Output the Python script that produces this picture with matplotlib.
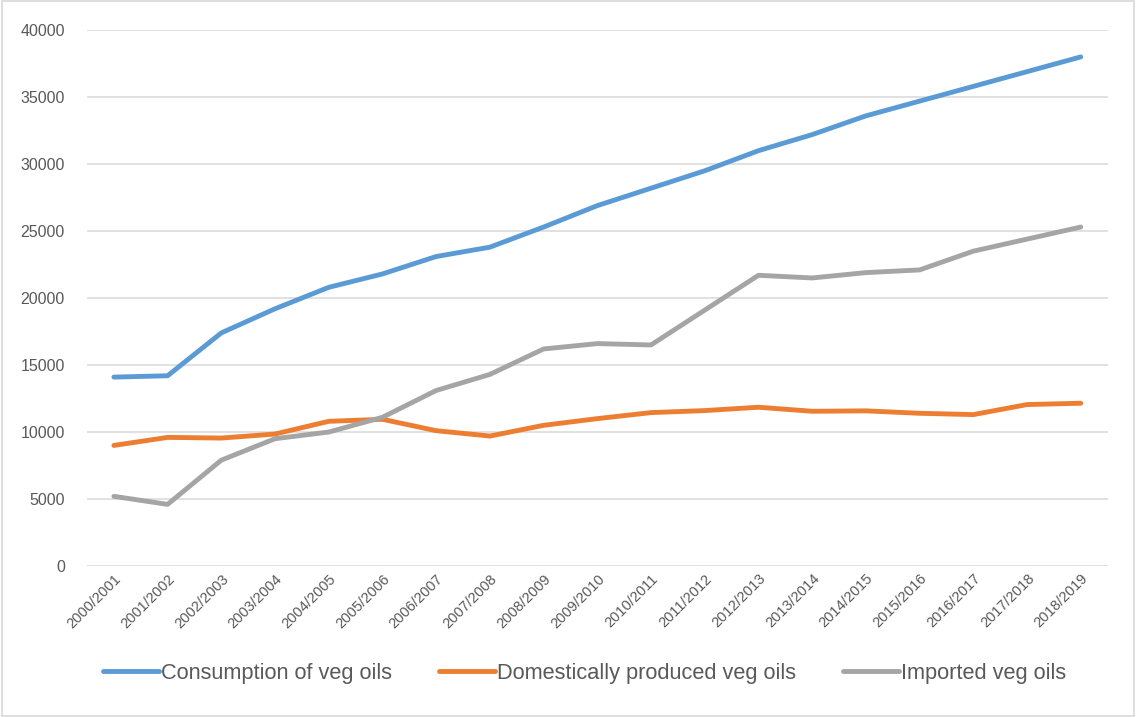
import matplotlib.pyplot as plt
import matplotlib.patches as mpatches

years = ['2000/2001', '2001/2002', '2002/2003', '2003/2004', '2004/2005', '2005/2006',
         '2006/2007', '2007/2008', '2008/2009', '2009/2010', '2010/2011', '2011/2012',
         '2012/2013', '2013/2014', '2014/2015', '2015/2016', '2016/2017', '2017/2018',
         '2018/2019']

consumption = [14100, 14200, 17400, 19200, 20800, 21800, 23100, 23800, 25300, 26900,
               28200, 29500, 31000, 32200, 33600, 34700, 35800, 36900, 38000]
domestic = [9000, 9600, 9550, 9850, 10800, 10950, 10100, 9700, 10500, 11000,
            11450, 11600, 11850, 11550, 11580, 11400, 11300, 12050, 12150]
imported = [5200, 4600, 7900, 9500, 10000, 11100, 13100, 14300, 16200, 16600,
            16500, 19100, 21700, 21500, 21900, 22100, 23500, 24400, 25300]

plt.rcParams['font.family'] = ['Liberation Sans', 'DejaVu Sans']

fig = plt.figure(figsize=(11.36, 7.17), dpi=100)
ax = fig.add_axes([0.0766, 0.2106, 0.975 - 0.0766, 0.958 - 0.2106])

x = range(len(years))
ax.plot(x, consumption, color='#5B9BD5', lw=3.5, solid_capstyle='round', label='Consumption of veg oils')
ax.plot(x, domestic, color='#ED7D31', lw=3.5, solid_capstyle='round', label='Domestically produced veg oils')
ax.plot(x, imported, color='#A5A5A5', lw=3.5, solid_capstyle='round', label='Imported veg oils')

ax.set_xlim(-0.5, len(years) - 0.5)
ax.set_ylim(0, 40000)
ax.set_yticks(range(0, 40001, 5000))
ax.yaxis.grid(True, color='#D9D9D9', lw=1.1)
ax.set_axisbelow(True)
for s in ax.spines.values():
    s.set_visible(False)
ax.tick_params(axis='both', length=0, colors='#595959')
ax.tick_params(axis='y', pad=16, labelsize=11.5)
ax.tick_params(axis='x', pad=4)
ax.set_xticks(list(x))
ax.set_xticklabels(years, rotation=45, ha='right', rotation_mode='anchor', fontsize=10.5)

leg = fig.legend(loc='center', bbox_to_anchor=(0.5145, 0.061), ncol=3, frameon=False,
                 fontsize=15.7, handlelength=2.57, handletextpad=0.1, columnspacing=2.15)
for t in leg.get_texts():
    t.set_color('#595959')

fig.patches.append(mpatches.Rectangle((0.002, 0.002), 0.996, 0.996, transform=fig.transFigure,
                                      fill=False, edgecolor='#D9D9D9', lw=1.2))

fig.savefig('out.png', dpi=100)
